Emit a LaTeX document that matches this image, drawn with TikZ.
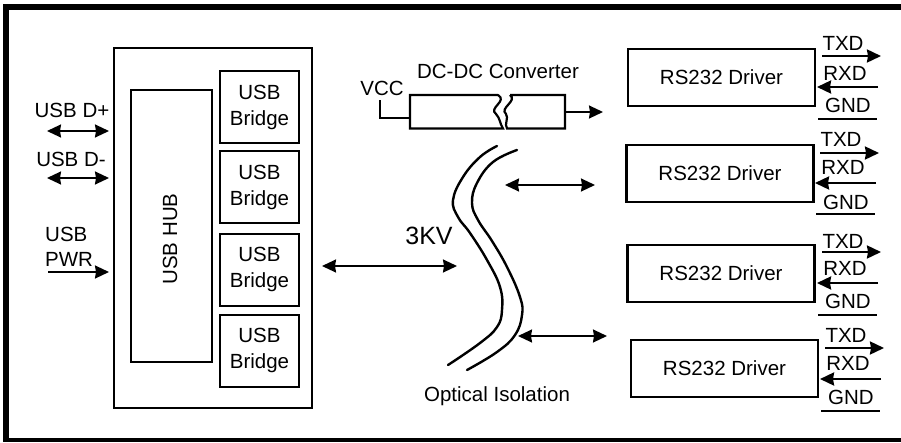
\documentclass[tikz,border=0pt]{standalone}
\usepackage{fontspec}
\setmainfont{Liberation Sans}
\usetikzlibrary{arrows.meta}
\begin{document}
\begin{tikzpicture}[x=1pt,y=-1pt,
  txt/.style={font=\fontsize{20.5}{26}\selectfont, inner sep=0pt},
  box/.style={draw, line width=2pt, inner sep=0pt, font=\fontsize{20.5}{26}\selectfont, align=center},
  drv/.style={box, line width=2.4pt, minimum width=187, minimum height=57},
  brg/.style={box, minimum width=79, minimum height=72},
  wire/.style={line width=1.8pt},
  tip/.tip={Stealth[length=14pt,width=13pt,inset=1pt]},
  dbl/.style={wire, tip-tip},
  arr/.style={wire, -tip},
  sig/.style={line width=2.4pt},
  curve/.style={line width=2.4pt, line cap=round},
]
\fill[white] (0,0) rectangle (901,442);
\useasboundingbox (0,0) rectangle (901,442);

% outer frame
\draw[line width=6pt] (901,7) -- (6,7) -- (6,442);
\draw[line width=4pt] (3,440) -- (901,440);

% USB side
\node[box, minimum width=198, minimum height=360] (usbbox) at (213,228) {};
\node[box, minimum width=81, minimum height=272] (hub) at (171.5,226) {};
\node[txt, rotate=90] (hubtxt) at (170,239) {USB HUB};
\node[brg] (br1) at (259.5,107) {USB\\Bridge};
\node[brg] (br2) at (259.5,187) {USB\\Bridge};
\node[brg] (br3) at (259.5,269.5) {USB\\Bridge};
\node[brg] (br4) at (259.5,350.5) {USB\\Bridge};

\node[txt] (dp) at (72,110) {USB D+};
\node[txt] (dm) at (71,159) {USB D-};
\node[txt, font=\fontsize{20.5}{25}\selectfont, align=left, anchor=north west] (pwr) at (45,227) {USB\\PWR};

\coordinate (dpl) at (47,131);
\coordinate (dml) at (47,178);
\coordinate (pwl) at (48,272);
\draw[dbl, shorten >=4pt] (dpl) -- (dpl -| usbbox.west);
\draw[dbl, shorten >=4pt] (dml) -- (dml -| usbbox.west);
\draw[arr, shorten >=4pt] (pwl) -- (pwl -| usbbox.west);

% DC-DC converter
\node[txt] (convtxt) at (498,71) {DC-DC Converter};
\node[txt] (vcc) at (382,88.5) {VCC};
\node[minimum width=155, minimum height=33, inner sep=0pt] (conv) at (487.5,112) {};
\draw[line width=2.2pt, line join=miter]
  (498,95) -- (410,95) -- (410,128.5) -- (503,128.5)
  .. controls (500,124) and (500,118) .. (496,114)
  .. controls (488,108) and (508,101) .. (498,95);
\draw[line width=2.2pt, line join=miter]
  (510,95) -- (565,95) -- (565,128.5) -- (507,128.5)
  .. controls (504,124) and (509,118) .. (506,114)
  .. controls (499,108) and (518,101) .. (510,95);
\coordinate (vccpin) at (380,100);
\coordinate (convin) at (410,118);
\draw[wire] (vccpin) |- (convin);
\coordinate (convout) at (603,112);
\draw[arr] (conv.east) -- (convout);

% optical isolation barrier
\draw[curve] plot[smooth, tension=0.7] coordinates {(497,146) (480,157) (463,177) (453,200) (458,217) (470,233) (487,260) (500,287) (502,310) (497,327) (480,343) (448,365)};
\draw[curve] plot[smooth, tension=0.7] coordinates {(517,150) (493,162) (477,183) (472,203) (478,220) (492,241) (507,267) (520,297) (522,315) (515,335) (497,352) (467,370)};
\node[font=\fontsize{25}{30}\selectfont, inner sep=0pt] (kv) at (429,236) {3KV};
\node[txt, anchor=base] (opt) at (497,401.5) {Optical Isolation};

\coordinate (hl) at (322,266);
\coordinate (hr) at (457,266);
\draw[dbl] (hl) -- (hr);
\coordinate (ial) at (505,185);
\coordinate (iar) at (595,185);
\draw[dbl] (ial) -- (iar);
\coordinate (ibl) at (518,336);
\coordinate (ibr) at (607,336);
\draw[dbl] (ibl) -- (ibr);

% RS232 drivers
\node[drv] (d1) at (721.5,77.5) {RS232 Driver};
\node[drv] (d2) at (720,173.5) {RS232 Driver};
\node[drv] (d3) at (721,273.5) {RS232 Driver};
\node[drv] (d4) at (724.5,368.5) {RS232 Driver};

\foreach \i/\dx/\ya/\yb/\yc/\yd/\ye/\yf in
  {1/0/43.5/56/73/87/105.5/119,
   2/-2/139/153/167.5/183/202/214,
   3/0/241/252/268.5/283/301.5/315,
   4/3/335/348/363.5/379/397/411}{
  \node[txt] (txd\i) at (843+\dx,\ya) {TXD};
  \node[txt] (rxd\i) at (845+\dx,\yc) {RXD};
  \node[txt] (gnd\i) at (848+\dx,\ye) {GND};
  \coordinate (ta\i) at (822+\dx,\yb);
  \coordinate (tb\i) at (881+\dx,\yb);
  \coordinate (ra\i) at (878+\dx,\yd);
  \coordinate (rb\i) at (817+\dx,\yd);
  \coordinate (ga\i) at (818+\dx,\yf);
  \coordinate (gb\i) at (877+\dx,\yf);
  \draw[sig, -tip] (ta\i) -- (tb\i);
  \draw[sig, -tip] (ra\i) -- (rb\i);
  \draw[sig] (ga\i) -- (gb\i);
}
\end{tikzpicture}
\end{document}
